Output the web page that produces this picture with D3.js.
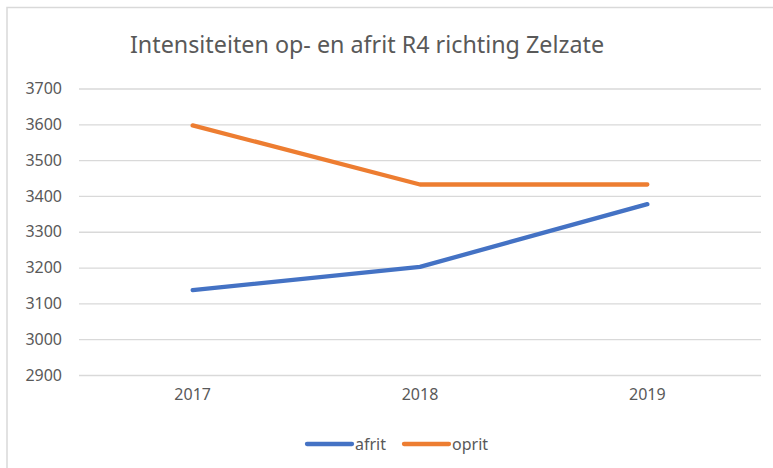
<!DOCTYPE html>
<html>
<head>
<meta charset="utf-8">
<script src="https://cdn.jsdelivr.net/npm/d3@7"></script>
<style>
  body { margin: 0; background: white; }
  text { font-family: "Noto Sans", "Open Sans", sans-serif; fill: #595959; }
</style>
</head>
<body>
<script>
// data
var years = ["2017", "2018", "2019"];
var afrit = [3137, 3202, 3377];
var oprit = [3597, 3432, 3432];
var yTicks = [2900, 3000, 3100, 3200, 3300, 3400, 3500, 3600, 3700];
var seriesNames = ["afrit", "oprit"];
var seriesColors = ["#4472C4", "#ED7D31"];

width = 773;
height = 468;
margin = { top: 88.5, right: 12, bottom: 93, left: 79 }

var series = [
    { key: seriesNames[0], values: afrit },
    { key: seriesNames[1], values: oprit }
];

var x = d3.scaleBand()
    .domain(years)
    .range([margin.left, width - margin.right])
    .padding(0);

var y = d3.scaleLinear()
    .domain([2900, 3700])
    .range([height - margin.bottom, margin.top]);

var color = d3.scaleOrdinal()
    .domain(seriesNames)
    .range(seriesColors);

const svg = d3.select('body')
    .append("svg")
    .attr("width", width)
    .attr("height", height);

// chart border
svg.append('rect')
    .attr('x', 7)
    .attr('y', 7.5)
    .attr('width', width + 20)
    .attr('height', height + 20)
    .attr('fill', 'white')
    .attr('stroke', '#d9d9d9')
    .attr('stroke-width', 1.5);

// TITLE
svg.append('text')
    .attr('x', 367)
    .attr('y', 53)
    .attr('text-anchor', 'middle')
    .style('font-size', '23.3px')
    .text('Intensiteiten op- en afrit R4 richting Zelzate');

// y axis: gridlines + labels
const yAxis = g => g
    .attr("transform", `translate(${margin.left},0)`)
    .call(d3.axisLeft(y)
        .tickValues(yTicks)
        .tickSize(-(width - margin.left - margin.right))
        .tickPadding(17)
        .tickFormat(d3.format("d")))
    .call(g => g.select(".domain").remove())
    .call(g => g.selectAll(".tick line").attr("stroke", "#d9d9d9").attr("stroke-width", 1.3))
    .call(g => g.selectAll(".tick text")
        .attr("fill", "#595959")
        .style("font-size", "16px")
        .style("font-family", '"Noto Sans", sans-serif'));

svg.append("g").call(yAxis);

// x axis labels
const xAxis = g => g
    .attr("transform", `translate(0,${height - margin.bottom})`)
    .call(d3.axisBottom(x).tickSize(0).tickPadding(14))
    .call(g => g.select(".domain").remove())
    .call(g => g.selectAll(".tick text")
        .attr("fill", "#595959")
        .style("font-size", "16px")
        .style("font-family", '"Noto Sans", sans-serif'));

svg.append("g").call(xAxis);

// lines
var line = d3.line()
    .x((d, i) => x(years[i]) + x.bandwidth() / 2)
    .y(d => y(d));

svg.append("g")
    .selectAll("path")
    .data(series)
    .join("path")
    .attr("fill", "none")
    .attr("stroke", d => color(d.key))
    .attr("stroke-width", 4.3)
    .attr("stroke-linecap", "round")
    .attr("stroke-linejoin", "round")
    .attr("d", d => line(d.values));

// legend
var legendX = [307, 404];
var legend = svg.append("g")
    .attr("class", "legend")
    .selectAll("g")
    .data(series)
    .join("g")
    .attr("transform", (d, i) => `translate(${legendX[i]},444)`);

legend.append("line")
    .attr("x1", 0)
    .attr("x2", 45)
    .attr("stroke", d => color(d.key))
    .attr("stroke-width", 4.3)
    .attr("stroke-linecap", "round");

legend.append("text")
    .attr("x", 48)
    .attr("y", 6)
    .style("font-size", "16px")
    .text(d => d.key);
</script>
</body>
</html>
